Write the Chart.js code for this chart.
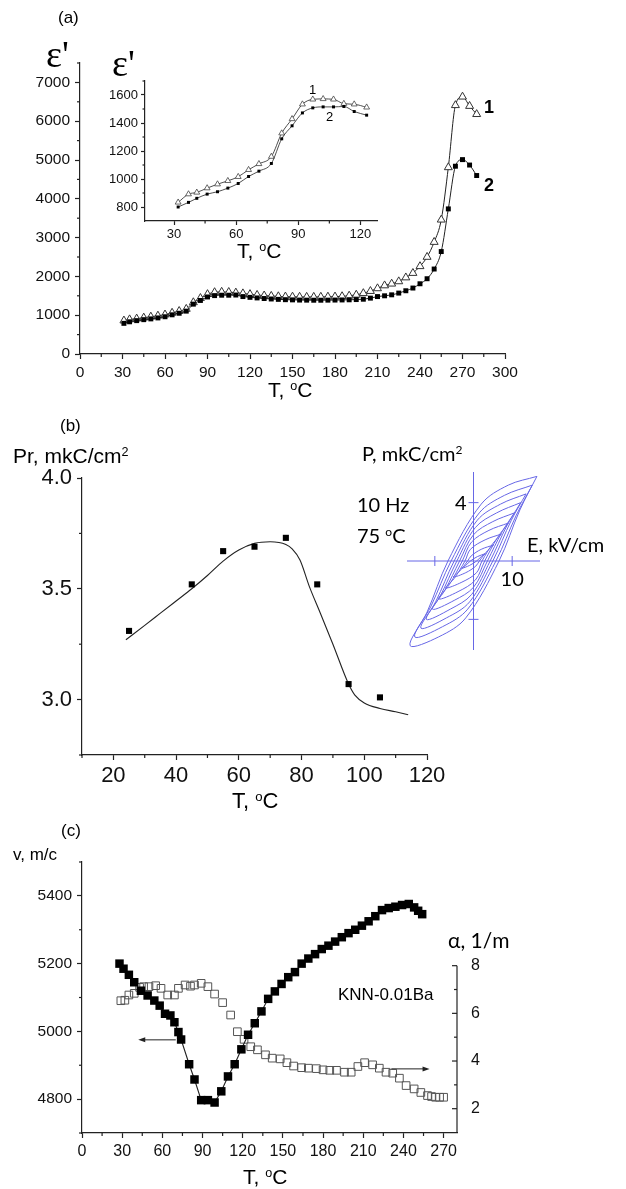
<!DOCTYPE html>
<html>
<head>
<meta charset="utf-8">
<script src="https://cdn.jsdelivr.net/npm/chart.js@4.4.0/dist/chart.umd.min.js"></script>
<style>
  body { margin: 0; background: #fff; }
  #page { position: relative; width: 626px; height: 1189px; overflow: hidden; font-family: "Liberation Sans", Arial, sans-serif; color: #000; }
  canvas { position: absolute; }
  .t { position: absolute; white-space: nowrap; line-height: 1; }
  .cal { font-family: Lato, "Open Sans", sans-serif; }
  .eps { font-family: "Liberation Serif", "DejaVu Serif", serif; }
  .sup { font-size: 0.6em; position: relative; top: -0.55em; }
</style>
</head>
<body>
<div id="page">
  <canvas id="chartA" width="626" height="410" style="left:0;top:0"></canvas>
  <canvas id="chartAin" width="300" height="180" style="left:90px;top:70px"></canvas>
  <canvas id="chartB" width="626" height="410" style="left:0;top:400px"></canvas>
  <canvas id="chartHyst" width="286" height="230" style="left:340px;top:430px"></canvas>
  <canvas id="chartC" width="626" height="379" style="left:0;top:810px"></canvas>

  <div class="t" style="left:58px;top:9px;font-size:17px">(a)</div>
  <div class="t eps" style="left:46px;top:35px;font-size:38px">ε'</div>
  <div class="t eps" style="left:112px;top:44px;font-size:38px">ε'</div>
  <div class="t" style="left:309px;top:83px;font-size:13px">1</div>
  <div class="t" style="left:326px;top:110px;font-size:13px">2</div>
  <div class="t" style="left:237px;top:240px;font-size:21px">T, <span class="sup">o</span>C</div>
  <div class="t" style="left:268px;top:379px;font-size:21px">T, <span class="sup">o</span>C</div>
  <div class="t" style="left:484px;top:98px;font-size:18px;font-weight:bold">1</div>
  <div class="t" style="left:484px;top:176px;font-size:18px;font-weight:bold">2</div>

  <div class="t" style="left:60px;top:417px;font-size:17px">(b)</div>
  <div class="t" style="left:13px;top:445px;font-size:21px">Pr, mkC/cm<span class="sup">2</span></div>
  <div class="t" style="left:232px;top:790px;font-size:22px">T, <span class="sup">o</span>C</div>
  <div class="t cal" style="left:362px;top:443px;font-size:20px">P, mkC/cm<span class="sup">2</span></div>
  <div class="t cal" style="left:357px;top:494px;font-size:20px">10 Hz</div>
  <div class="t cal" style="left:357px;top:525px;font-size:20px">75 <span class="sup">o</span>C</div>
  <div class="t cal" style="left:527px;top:534px;font-size:20px">E, kV/cm</div>

  <div class="t" style="left:61px;top:822px;font-size:17px">(c)</div>
  <div class="t" style="left:13px;top:846px;font-size:17px">v, m/c</div>
  <div class="t cal" style="left:448px;top:929px;font-size:21px">α, 1/m</div>
  <div class="t" style="left:338px;top:986px;font-size:17px">KNN-0.01Ba</div>
  <div class="t" style="left:243px;top:1166px;font-size:21px">T, <span class="sup">o</span>C</div>
</div>

<script>
// (a) permittivity vs temperature, curves 1 (triangles) and 2 (squares)
const tempA = [31, 35, 40, 45, 50, 55, 60, 65, 70, 75, 80, 85, 90, 95, 100, 105, 110, 115, 120, 125,
  130, 135, 140, 145, 150, 155, 160, 165, 170, 175, 180, 185, 190, 195, 200, 205, 210, 215, 220, 225,
  230, 235, 240, 245, 250, 255, 260, 265, 270, 275, 280];
const eps1 = [860, 890, 910, 935, 960, 985, 1015, 1060, 1105, 1160, 1330, 1440, 1540, 1590, 1600, 1595, 1580, 1560, 1540, 1520,
  1505, 1495, 1485, 1478, 1475, 1472, 1470, 1470, 1472, 1475, 1478, 1486, 1500, 1525, 1565, 1620, 1690, 1765, 1810, 1870,
  1970, 2085, 2260, 2500, 2885, 3460, 4810, 6410, 6630, 6390, 6180];
const eps2 = [790, 830, 860, 885, 905, 930, 960, 1010, 1050, 1105, 1285, 1380, 1470, 1505, 1515, 1515, 1520, 1480, 1460, 1445,
  1430, 1418, 1408, 1400, 1395, 1390, 1388, 1386, 1386, 1388, 1390, 1393, 1397, 1403, 1412, 1440, 1480, 1500, 1525, 1570,
  1630, 1700, 1810, 1940, 2190, 2640, 3740, 4840, 5010, 4870, 4600];

// (a) inset
const tempIn = [32, 37, 41, 46, 51, 56, 61, 66, 71, 77, 82, 87, 92, 97, 102, 107, 112, 117, 123];
const eps1In = [833, 892, 904, 935, 963, 987, 1016, 1066, 1108, 1160, 1327, 1429, 1534, 1569, 1572, 1569, 1538, 1534, 1512];
const eps2In = [800, 833, 862, 892, 909, 935, 968, 1018, 1056, 1111, 1287, 1380, 1472, 1508, 1515, 1515, 1518, 1482, 1456];

// (b) remanent polarization
const tempB = [25, 45, 55, 65, 75, 85, 95, 105];
const prB = [3.31, 3.52, 3.67, 3.69, 3.73, 3.52, 3.07, 3.01];
const tempFit = [24, 30, 35, 40, 45, 50, 55, 60, 65, 70, 75, 77, 79.5, 82.5, 86, 90, 95, 97, 100, 105, 110, 114];
const prFit = [3.27, 3.335, 3.39, 3.445, 3.50, 3.56, 3.625, 3.675, 3.705, 3.712, 3.70, 3.68, 3.63, 3.51, 3.39, 3.25, 3.07, 3.02, 2.985, 2.96, 2.945, 2.932];

// (b) inset: upper branches of P-E loops (lower branch is the point reflection)
const loops = [
  [[16.4, 5.8], [9, 5.2], [2, 3.9], [-6.6, 0], [-12, -3.5], [-16.4, -5.8]],
  [[15.2, 5.2], [8, 4.5], [1.5, 3.3], [-5.8, 0], [-11, -3.1], [-15.2, -5.2]],
  [[13.6, 4.6], [7, 3.9], [1, 2.8], [-5, 0], [-9.8, -2.8], [-13.6, -4.6]],
  [[12.2, 4.0], [6, 3.3], [0.5, 2.3], [-4.3, 0], [-8.6, -2.4], [-12.2, -4.0]],
  [[10.6, 3.3], [5, 2.7], [0, 1.8], [-3.6, 0], [-7.4, -2.0], [-10.6, -3.3]],
  [[9, 2.6], [4, 2.1], [-0.5, 1.3], [-2.9, 0], [-6.2, -1.6], [-9, -2.6]],
  [[7.2, 1.85], [3, 1.45], [-0.8, 0.8], [-2.2, 0], [-5, -1.2], [-7.2, -1.85]],
  [[5.2, 1.1], [2, 0.8], [-0.6, 0.35], [-1.5, 0], [-3.6, -0.7], [-5.2, -1.1]],
  [[3, 0.5], [1, 0.3], [-0.8, 0], [-2, -0.3], [-3, -0.5]]
];

// (c) sound velocity (filled) and attenuation (open)
const tempV = [28, 31, 35, 39, 44, 49, 54, 58, 62, 66, 69, 72, 74, 80, 84, 89, 94, 99, 104, 109,
  114, 119, 124, 129, 134, 139, 144, 149, 154, 159, 164, 169, 174, 179, 184, 189, 194, 199, 204, 209,
  214, 219, 224, 229, 234, 239, 244, 248, 251, 254];
const velocity = [5200, 5185, 5167, 5145, 5120, 5106, 5091, 5076, 5052, 5047, 5027, 4998, 4976, 4903, 4858, 4797, 4797, 4790, 4823, 4867,
  4903, 4947, 4990, 5024, 5059, 5096, 5118, 5140, 5160, 5175, 5200, 5215, 5228, 5243, 5253, 5265, 5278, 5290, 5300, 5312,
  5325, 5340, 5358, 5364, 5368, 5373, 5376, 5366, 5356, 5346];
const tempAlpha = [29, 32, 35, 39, 43, 46, 50, 55, 59, 64, 69, 72, 77, 81, 84, 89, 94, 99, 105, 111,
  116, 121, 126, 131, 137, 142, 148, 153, 158, 164, 169, 175, 180, 185, 190, 196, 201, 206, 211, 217,
  222, 227, 232, 237, 242, 248, 253, 258, 261, 264, 267, 270];
const alpha = [6.53, 6.55, 6.77, 6.84, 7.09, 7.12, 7.12, 7.16, 7.05, 6.77, 6.77, 7.05, 7.19, 7.14, 7.19, 7.26, 7.12, 6.81, 6.45, 5.93,
  5.23, 4.91, 4.60, 4.47, 4.26, 4.12, 4.09, 3.93, 3.79, 3.72, 3.70, 3.68, 3.63, 3.61, 3.61, 3.53, 3.53, 3.77, 3.93, 3.84,
  3.70, 3.53, 3.49, 3.28, 2.97, 2.83, 2.68, 2.55, 2.51, 2.48, 2.48, 2.48];

Chart.defaults.font.family = '"Liberation Sans", Arial, sans-serif';
Chart.defaults.color = '#111';
Chart.defaults.animation = false;
Chart.defaults.plugins.legend.display = false;
Chart.defaults.plugins.tooltip.enabled = false;

const INK = '#222';

function pts(xs, ys) {
  return xs.map((x, i) => ({ x: x, y: ys[i] }));
}

function axis(o) {
  return {
    type: 'linear',
    position: o.pos,
    min: o.min,
    max: o.max,
    afterBuildTicks: s => { s.ticks = o.ticks.map(v => ({ value: v })); },
    afterFit: s => {
      if (o.w != null) s.width = o.w;
      if (o.h != null) s.height = o.h;
    },
    border: { display: o.border !== false, color: INK, width: 1.2 },
    grid: { display: o.grid !== false, drawOnChartArea: false, tickLength: o.tl || 5, color: INK, tickWidth: 1.2 },
    ticks: {
      font: { size: o.fs, family: o.family },
      color: '#111',
      padding: o.pad == null ? 4 : o.pad,
      autoSkip: false,
      maxRotation: 0,
      callback: o.cb || (v => String(v))
    }
  };
}

// minor ticks, partial axis spines and arrows, all placed through the chart scales
const decor = {
  id: 'decor',
  afterDraw(chart, args, o) {
    const ctx = chart.ctx;
    ctx.save();
    ctx.strokeStyle = INK;
    ctx.fillStyle = INK;
    ctx.lineWidth = 1.2;
    (o.marks || []).forEach(m => {
      const s = chart.scales[m.axis];
      m.values.forEach(v => {
        const p = s.getPixelForValue(v);
        ctx.beginPath();
        if (s.isHorizontal()) {
          ctx.moveTo(p, s.top); ctx.lineTo(p, s.top + m.len);
        } else if (s.position === 'left') {
          ctx.moveTo(s.right, p); ctx.lineTo(s.right - m.len, p);
        } else {
          ctx.moveTo(s.left, p); ctx.lineTo(s.left - m.len, p);
        }
        ctx.stroke();
      });
    });
    if (o.spine) {
      const s = chart.scales[o.spine.axis];
      ctx.beginPath();
      ctx.moveTo(s.left, s.getPixelForValue(o.spine.from));
      ctx.lineTo(s.left, chart.chartArea.bottom);
      ctx.stroke();
    }
    (o.arrows || []).forEach(a => {
      const ys = chart.scales[a.axis], xs = chart.scales.x;
      const x1 = xs.getPixelForValue(a.from), x2 = xs.getPixelForValue(a.to), y = ys.getPixelForValue(a.y);
      const d = Math.sign(x2 - x1);
      ctx.lineWidth = 1;
      ctx.beginPath();
      ctx.moveTo(x1, y); ctx.lineTo(x2 - d * 5, y);
      ctx.stroke();
      ctx.beginPath();
      ctx.moveTo(x2, y); ctx.lineTo(x2 - d * 7, y - 2.5); ctx.lineTo(x2 - d * 7, y + 2.5);
      ctx.closePath();
      ctx.fill();
    });
    ctx.restore();
  }
};

// crossing axes of the P-E inset
const crossAxes = {
  id: 'crossAxes',
  beforeDatasetsDraw(chart, args, o) {
    const { ctx, chartArea: a, scales: { x, y } } = chart;
    const x0 = x.getPixelForValue(0), y0 = y.getPixelForValue(0);
    ctx.save();
    ctx.strokeStyle = o.color;
    ctx.lineWidth = 1;
    ctx.beginPath();
    ctx.moveTo(a.left, y0); ctx.lineTo(a.right, y0);
    ctx.moveTo(x0, a.top); ctx.lineTo(x0, a.bottom);
    o.xTicks.forEach(v => { const p = x.getPixelForValue(v); ctx.moveTo(p, y0 - 5); ctx.lineTo(p, y0 + 5); });
    o.yTicks.forEach(v => { const p = y.getPixelForValue(v); ctx.moveTo(x0 - 5, p); ctx.lineTo(x0 + 5, p); });
    ctx.stroke();
    ctx.fillStyle = '#000';
    ctx.font = o.font;
    ctx.textAlign = 'right';
    ctx.textBaseline = 'middle';
    ctx.fillText(String(o.yLabel), x0 - 7, y.getPixelForValue(o.yLabel) + 1);
    ctx.textAlign = 'center';
    ctx.textBaseline = 'top';
    ctx.fillText(String(o.xLabel), x.getPixelForValue(o.xLabel), y0 + 9);
    ctx.restore();
  }
};

// ---- (a) main
new Chart(document.getElementById('chartA'), {
  type: 'scatter',
  data: {
    datasets: [{
      data: pts(tempA, eps2), showLine: true, cubicInterpolationMode: 'monotone',
      borderColor: INK, borderWidth: 1,
      pointStyle: 'rect', pointRadius: 3.5, pointBackgroundColor: '#000', pointBorderColor: '#000', pointBorderWidth: 0
    }, {
      data: pts(tempA, eps1), showLine: true, cubicInterpolationMode: 'monotone',
      borderColor: INK, borderWidth: 1,
      pointStyle: 'triangle', pointRadius: 4.6, pointBackgroundColor: '#fff', pointBorderColor: '#333', pointBorderWidth: 1
    }]
  },
  options: {
    responsive: false,
    layout: { padding: { left: 0, top: 63, right: 121, bottom: 0 } },
    scales: {
      x: axis({ pos: 'bottom', min: 0, max: 300, ticks: [0, 30, 60, 90, 120, 150, 180, 210, 240, 270, 300], fs: 15.5, h: 56, pad: 4 }),
      y: axis({ pos: 'left', min: 0, max: 7500, ticks: [0, 1000, 2000, 3000, 4000, 5000, 6000, 7000], fs: 15.5, w: 80, pad: 5 })
    },
    plugins: {
      decor: {
        marks: [
          { axis: 'x', len: 3, values: [15, 45, 75, 105, 135, 165, 195, 225, 255, 285] },
          { axis: 'y', len: 3, values: [500, 1500, 2500, 3500, 4500, 5500, 6500, 7500] }
        ]
      }
    }
  },
  plugins: [decor]
});

// ---- (a) inset
new Chart(document.getElementById('chartAin'), {
  type: 'scatter',
  data: {
    datasets: [{
      data: pts(tempIn, eps2In), showLine: true, cubicInterpolationMode: 'monotone',
      borderColor: INK, borderWidth: 0.8,
      pointStyle: 'rect', pointRadius: 2.1, pointBackgroundColor: '#000', pointBorderWidth: 0
    }, {
      data: pts(tempIn, eps1In), showLine: true, cubicInterpolationMode: 'monotone',
      borderColor: INK, borderWidth: 0.8,
      pointStyle: 'triangle', pointRadius: 3.4, pointBackgroundColor: '#fff', pointBorderColor: '#444', pointBorderWidth: 0.8
    }]
  },
  options: {
    responsive: false,
    layout: { padding: { left: 0, top: 11, right: 13, bottom: 0 } },
    scales: {
      x: axis({ pos: 'bottom', min: 16, max: 128, ticks: [30, 60, 90, 120], fs: 13, h: 29, tl: 4, pad: 2 }),
      y: axis({ pos: 'left', min: 700, max: 1700, ticks: [800, 1000, 1200, 1400, 1600], fs: 13, w: 55, tl: 4, pad: 3 })
    },
    plugins: {
      decor: {
        marks: [
          { axis: 'x', len: 2.5, values: [45, 75, 105] },
          { axis: 'y', len: 2.5, values: [900, 1100, 1300, 1500, 1700] }
        ]
      }
    }
  },
  plugins: [decor]
});

// ---- (b) main
new Chart(document.getElementById('chartB'), {
  type: 'scatter',
  data: {
    datasets: [{
      data: pts(tempB, prB),
      pointStyle: 'rect', pointRadius: 4.3, pointBackgroundColor: '#000', pointBorderWidth: 0
    }, {
      data: pts(tempFit, prFit), showLine: true, cubicInterpolationMode: 'monotone',
      borderColor: INK, borderWidth: 1.1, pointRadius: 0
    }]
  },
  options: {
    responsive: false,
    layout: { padding: { left: 0, top: 78, right: 199, bottom: 0 } },
    scales: {
      x: axis({ pos: 'bottom', min: 10, max: 120, ticks: [20, 40, 60, 80, 100, 120], fs: 22, h: 55, pad: 3 }),
      y: axis({ pos: 'left', min: 2.75, max: 4.0, ticks: [3.0, 3.5, 4.0], fs: 22, w: 82, pad: 5, cb: v => v.toFixed(1) })
    },
    plugins: {
      decor: {
        marks: [
          { axis: 'x', len: 3, values: [10, 30, 50, 70, 90, 110] },
          { axis: 'y', len: 3, values: [2.75, 3.25, 3.75] }
        ]
      }
    }
  },
  plugins: [decor]
});

// ---- (b) inset, P-E loops
new Chart(document.getElementById('chartHyst'), {
  type: 'scatter',
  data: {
    datasets: loops.map(up => {
      const low = up.map(p => ({ x: -p[0], y: -p[1] }));
      const path = up.map(p => ({ x: p[0], y: p[1] })).concat(low.slice(1), [{ x: up[0][0], y: up[0][1] }]);
      return {
        data: path, showLine: true, tension: 0.35, clip: false,
        borderColor: '#6767e6', borderWidth: 1, pointRadius: 0
      };
    })
  },
  options: {
    responsive: false,
    layout: { padding: { left: 67, top: 42, right: 86, bottom: 10 } },
    scales: {
      x: { type: 'linear', display: false, min: -17.2, max: 17.2 },
      y: { type: 'linear', display: false, min: -6.1, max: 6.1 }
    },
    plugins: {
      crossAxes: { color: '#6767e6', xTicks: [-10, 10], yTicks: [-4, 4], xLabel: 10, yLabel: 4, font: '20px Lato, "Open Sans", sans-serif' }
    }
  },
  plugins: [crossAxes]
});

// ---- (c) velocity and attenuation
new Chart(document.getElementById('chartC'), {
  type: 'scatter',
  data: {
    datasets: [{
      data: pts(tempV, velocity), yAxisID: 'y', showLine: true, tension: 0,
      borderColor: INK, borderWidth: 1.1,
      pointStyle: 'rect', pointRadius: 6, pointBackgroundColor: '#000', pointBorderWidth: 0
    }, {
      data: pts(tempAlpha, alpha), yAxisID: 'y2',
      pointStyle: 'rect', pointRadius: 5.4, pointBackgroundColor: 'rgba(255,255,255,0)', pointBorderColor: '#555', pointBorderWidth: 1
    }]
  },
  options: {
    responsive: false,
    layout: { padding: { left: 0, top: 52, right: 0, bottom: 0 } },
    scales: {
      x: axis({ pos: 'bottom', min: 0, max: 280, ticks: [0, 30, 60, 90, 120, 150, 180, 210, 240, 270], fs: 16, h: 56, pad: 4 }),
      y: axis({ pos: 'left', min: 4700, max: 5500, ticks: [4800, 5000, 5200, 5400], fs: 15.5, w: 82, pad: 5 }),
      y2: axis({ pos: 'right', min: 0.98, max: 12.35, ticks: [2, 4, 6, 8], fs: 16, w: 169, pad: 9, border: false, grid: false })
    },
    plugins: {
      decor: {
        marks: [
          { axis: 'x', len: 3, values: [15, 45, 75, 105, 135, 165, 195, 225, 255] },
          { axis: 'y', len: 3, values: [4700, 4900, 5100, 5300, 5500] },
          { axis: 'y2', len: 5, values: [2, 4, 6, 8] },
          { axis: 'y2', len: 3, values: [3, 5, 7] }
        ],
        spine: { axis: 'y2', from: 8 },
        arrows: [
          { axis: 'y', from: 70, to: 42, y: 4975 },
          { axis: 'y2', from: 231, to: 259.5, y: 3.67 }
        ]
      }
    }
  },
  plugins: [decor]
});
</script>
</body>
</html>
